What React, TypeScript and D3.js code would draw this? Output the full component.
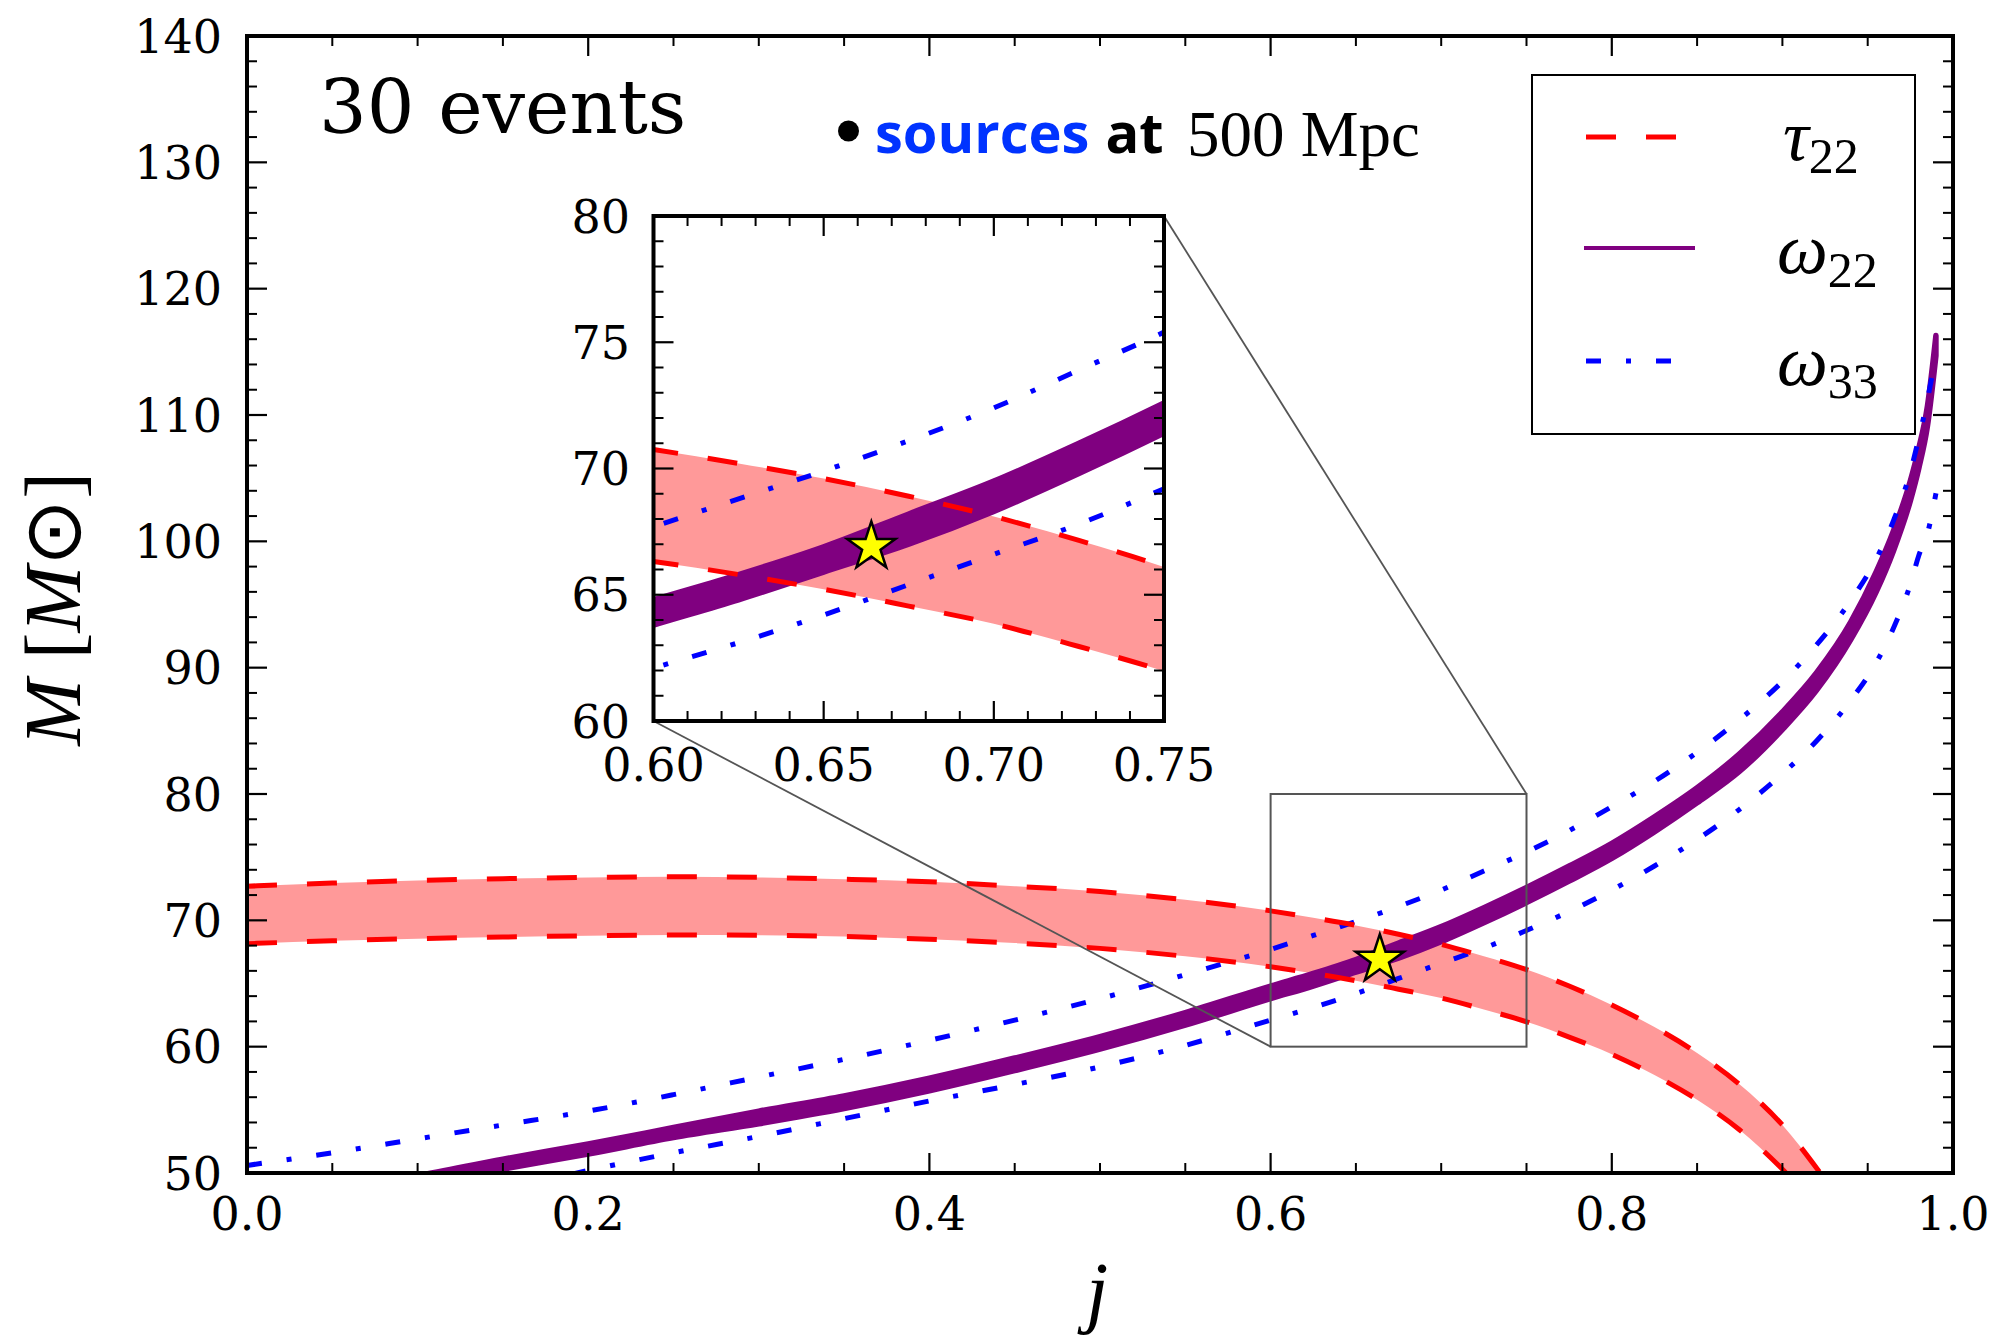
import React from "react";
import * as d3 from "d3";

// Black-hole spin grid shared by every curve
const spin = [
  0, 0.05, 0.1, 0.15, 0.2, 0.25, 0.3, 0.35, 0.4, 0.45, 0.5, 0.55, 0.6, 0.625, 0.65, 0.675,
  0.7, 0.725, 0.75, 0.775, 0.8, 0.825, 0.85, 0.875, 0.9, 0.92, 0.94, 0.955, 0.965, 0.975,
  0.98, 0.985, 0.99,
];

// Mass bounds (solar masses) allowed by the damping time tau_22
const tau22Upper = [
  72.7, 72.95, 73.15, 73.3, 73.4, 73.45, 73.4, 73.25, 73.05, 72.7, 72.28, 71.62, 70.75, 70.2,
  69.6, 68.9, 68.1, 67.15, 66.1, 64.8, 63.3, 61.55, 59.5, 57.0, 53.8, 50.4, 46.6,
  null, null, null, null, null, null,
];
const tau22Lower = [
  68.15, 68.38, 68.55, 68.68, 68.78, 68.84, 68.82, 68.72, 68.5, 68.2, 67.78, 67.15, 66.32, 65.8,
  65.22, 64.55, 63.85, 62.95, 61.97, 60.76, 59.4, 57.75, 55.8, 53.4, 50.3, 47.4,
  null, null, null, null, null, null, null,
];

// Narrow band allowed by the frequency omega_22
const omega22Lower = [
  null, 47.9, 49.0, 50.3, 51.5, 52.8, 53.9, 55.1, 56.5, 58.1, 59.8, 61.7, 63.8, 64.8, 65.9,
  67.0, 68.3, 69.8, 71.4, 73.1, 74.9, 77.0, 79.3, 81.8, 85.1, 88.2, 92.2, 96.0, 99.2, 103.2,
  105.8, 109.1, 114.7,
];
const omega22Upper = [
  null, 48.7, 49.8, 51.1, 52.3, 53.6, 54.9, 56.1, 57.5, 59.1, 60.8, 62.7, 64.8, 65.8, 66.9,
  68.2, 69.5, 71.0, 72.6, 74.3, 76.1, 78.2, 80.5, 83.2, 86.5, 89.6, 93.6, 97.6, 100.8, 104.8,
  107.4, 110.7, 116.3,
];

// Bounds allowed by the frequency omega_33
const omega33Upper = [
  50.6, 51.6, 52.7, 53.8, 54.9, 56.2, 57.6, 59.0, 60.5, 62.1, 63.8, 65.7, 67.7, 68.8, 69.9,
  71.1, 72.4, 73.9, 75.4, 77.1, 79.0, 81.0, 83.3, 85.9, 88.9, 91.8, 95.3, 98.6, 101.6, 105.5,
  108.2, 111.2, 114.8,
];
const omega33Lower = [
  null, null, null, 48.6, 50.2, 51.6, 52.9, 54.3, 55.7, 57.0, 58.4, 60.1, 62.1, 63.1, 64.2,
  65.4, 66.6, 67.8, 69.2, 70.7, 72.4, 74.3, 76.4, 78.8, 81.6, 84.2, 87.4, 90.4, 93.1, 96.6,
  98.9, 100.6, 103.8,
];

// True source parameters
const sourceSpin = 0.664;
const sourceMass = 66.9;

// Axis ticks
const mainXMajor = [0, 0.2, 0.4, 0.6, 0.8, 1.0];
const mainXMinor = d3.range(0, 21).filter((i) => i % 4 !== 0).map((i) => i * 0.05);
const mainYMajor = [50, 60, 70, 80, 90, 100, 110, 120, 130, 140];
const mainYMinor = d3.range(50, 141, 2).filter((v) => v % 10 !== 0);
const insetXMajor = [0.6, 0.65, 0.7, 0.75];
const insetXMinor = d3.range(0, 16).filter((i) => i % 5 !== 0).map((i) => 0.6 + i * 0.01);
const insetYMajor = [60, 65, 70, 75, 80];
const insetYMinor = d3.range(60, 81, 1).filter((v) => v % 5 !== 0);

const RED = "#ff0000";
const RED_FILL = "#ff9999";
const PURPLE = "#800080";
const BLUE = "#0000ff";
const SERIF = "DejaVu Serif";
const MATH = "Liberation Serif";

type Scale = d3.ScaleLinear<number, number>;
const idx = spin.map((_, i) => i);

function linePath(xs: Scale, ys: Scale, vals: (number | null)[]) {
  return (
    d3
      .line<number>()
      .defined((i) => vals[i] != null)
      .x((i) => xs(spin[i]))
      .y((i) => ys(vals[i] as number))
      .curve(d3.curveMonotoneX)(idx) || ""
  );
}

function bandPath(xs: Scale, ys: Scale, lo: (number | null)[], hi: (number | null)[]) {
  return (
    d3
      .area<number>()
      .defined((i) => lo[i] != null && hi[i] != null)
      .x((i) => xs(spin[i]))
      .y0((i) => ys(lo[i] as number))
      .y1((i) => ys(hi[i] as number))
      .curve(d3.curveMonotoneX)(idx) || ""
  );
}

const starPath = d3.symbol().type(d3.symbolStar).size(720)() || "";

function Curves({ xs, ys, clip }: { xs: Scale; ys: Scale; clip: string }) {
  return (
    <g clipPath={`url(#${clip})`}>
      <path d={bandPath(xs, ys, tau22Lower, tau22Upper)} fill={RED_FILL} stroke="none" />
      <path
        d={bandPath(xs, ys, omega22Lower, omega22Upper)}
        fill={PURPLE}
        stroke={PURPLE}
        strokeWidth={5.5}
        strokeLinejoin="round"
      />
      {[omega33Upper, omega33Lower].map((v, k) => (
        <path
          key={`b${k}`}
          d={linePath(xs, ys, v)}
          fill="none"
          stroke={BLUE}
          strokeWidth={5}
          strokeDasharray="15 25 5 25"
        />
      ))}
      {[tau22Upper, tau22Lower].map((v, k) => (
        <path
          key={`r${k}`}
          d={linePath(xs, ys, v)}
          fill="none"
          stroke={RED}
          strokeWidth={5}
          strokeDasharray="30 30"
        />
      ))}
    </g>
  );
}

function Star({ xs, ys }: { xs: Scale; ys: Scale }) {
  return (
    <path
      d={starPath}
      transform={`translate(${xs(sourceSpin)},${ys(sourceMass)})`}
      fill="#ffff00"
      stroke="#000"
      strokeWidth={2.5}
      strokeLinejoin="miter"
    />
  );
}

function Frame({
  xs, ys, xMajor, xMinor, yMajor, yMinor,
}: {
  xs: Scale; ys: Scale; xMajor: number[]; xMinor: number[]; yMajor: number[]; yMinor: number[];
}) {
  const [l, r] = xs.range();
  const [b, t] = ys.range();
  const ticks: JSX.Element[] = [];
  const add = (vals: number[], len: number, w: number, kind: string) => {
    vals.forEach((v, i) => {
      if (kind === "x") {
        const p = xs(v);
        ticks.push(<line key={`xb${len}-${i}`} x1={p} x2={p} y1={b} y2={b - len} stroke="#000" strokeWidth={w} />);
        ticks.push(<line key={`xt${len}-${i}`} x1={p} x2={p} y1={t} y2={t + len} stroke="#000" strokeWidth={w} />);
      } else {
        const p = ys(v);
        ticks.push(<line key={`yl${len}-${i}`} x1={l} x2={l + len} y1={p} y2={p} stroke="#000" strokeWidth={w} />);
        ticks.push(<line key={`yr${len}-${i}`} x1={r} x2={r - len} y1={p} y2={p} stroke="#000" strokeWidth={w} />);
      }
    });
  };
  add(xMajor, 20, 2.2, "x");
  add(xMinor, 10, 2, "x");
  add(yMajor, 20, 2.2, "y");
  add(yMinor, 10, 2, "y");
  return (
    <g>
      {ticks}
      <rect x={l} y={t} width={r - l} height={b - t} fill="none" stroke="#000" strokeWidth={4} />
    </g>
  );
}

function TickLabels({
  xs, ys, xVals, yVals, xFmt, yLabelX, xLabelY,
}: {
  xs: Scale; ys: Scale; xVals: number[]; yVals: number[]; xFmt: (n: number) => string; yLabelX: number; xLabelY: number;
}) {
  return (
    <g fontFamily={SERIF} fontSize={46} fill="#000">
      {xVals.map((v, i) => (
        <text key={`x${i}`} x={xs(v)} y={xLabelY} textAnchor="middle">
          {xFmt(v)}
        </text>
      ))}
      {yVals.map((v, i) => (
        <text key={`y${i}`} x={yLabelX} y={ys(v) + 16.5} textAnchor="end">
          {d3.format("d")(v)}
        </text>
      ))}
    </g>
  );
}

export default function App() {
  const x = d3.scaleLinear().domain([0, 1]).range([247, 1953]);
  const y = d3.scaleLinear().domain([50, 140]).range([1173, 36]);
  const xi = d3.scaleLinear().domain([0.6, 0.75]).range([653.5, 1164]);
  const yi = d3.scaleLinear().domain([60, 80]).range([721, 216]);

  const zx0 = x(0.6), zx1 = x(0.75), zy0 = y(60), zy1 = y(80);

  return (
    <svg
      width={2003}
      height={1336}
      viewBox="0 0 2003 1336"
      style={{ position: "absolute", left: 0, top: 0, background: "#fff" }}
    >
      <defs>
        <clipPath id="mainClip">
          <rect x={247} y={36} width={1706} height={1137} />
        </clipPath>
        <clipPath id="insetClip">
          <rect x={653.5} y={216} width={1164 - 653.5} height={721 - 216} />
        </clipPath>
      </defs>
      <rect x={0} y={0} width={2003} height={1336} fill="#fff" />

      {/* main panel */}
      <Curves xs={x} ys={y} clip="mainClip" />
      <Star xs={x} ys={y} />

      {/* zoomed region and its connectors */}
      <rect x={zx0} y={zy1} width={zx1 - zx0} height={zy0 - zy1} fill="none" stroke="#555" strokeWidth={2} />
      <line x1={zx1} y1={zy1} x2={1164} y2={216} stroke="#555" strokeWidth={1.8} />
      <line x1={zx0} y1={zy0} x2={653.5} y2={721} stroke="#555" strokeWidth={1.8} />

      <Frame xs={x} ys={y} xMajor={mainXMajor} xMinor={mainXMinor} yMajor={mainYMajor} yMinor={mainYMinor} />
      <TickLabels xs={x} ys={y} xVals={mainXMajor} yVals={mainYMajor} xFmt={d3.format(".1f")} yLabelX={222} xLabelY={1230} />

      {/* inset panel */}
      <rect x={653.5} y={216} width={1164 - 653.5} height={721 - 216} fill="#fff" />
      <Curves xs={xi} ys={yi} clip="insetClip" />
      <Star xs={xi} ys={yi} />
      <Frame xs={xi} ys={yi} xMajor={insetXMajor} xMinor={insetXMinor} yMajor={insetYMajor} yMinor={insetYMinor} />
      <TickLabels xs={xi} ys={yi} xVals={insetXMajor} yVals={insetYMajor} xFmt={d3.format(".2f")} yLabelX={630} xLabelY={781} />

      {/* annotations */}
      <text x={319} y={133} fontFamily={SERIF} fontSize={75} fill="#000">
        30 events
      </text>
      <circle cx={848.5} cy={131} r={10.5} fill="#000" />
      <text x={875} y={153} fontFamily="Open Sans" fontWeight={700} fontSize={56}>
        <tspan fill="#0033ff">sources</tspan>
        <tspan fill="#000" dx={16}>at</tspan>
      </text>
      <text x={1187} y={156} fontFamily={MATH} fontSize={65} fill="#000">
        500 Mpc
      </text>

      {/* legend */}
      <rect x={1532} y={75} width={383} height={359} fill="#fff" stroke="#000" strokeWidth={2} />
      <line x1={1586} x2={1678} y1={137} y2={137} stroke={RED} strokeWidth={5} strokeDasharray="30 30" />
      <line x1={1584} x2={1695} y1={248} y2={248} stroke={PURPLE} strokeWidth={4} />
      <line x1={1586} x2={1673} y1={361} y2={361} stroke={BLUE} strokeWidth={5} strokeDasharray="15 25 5 25" />
      <g fontFamily={MATH} fill="#000">
        <text x={1783} y={160} fontSize={72}>
          <tspan fontStyle="italic">τ</tspan>
          <tspan fontSize={50} dy={13}>22</tspan>
        </text>
        <text x={1777} y={273} fontSize={72}>
          <tspan fontStyle="italic">ω</tspan>
          <tspan fontSize={50} dy={14}>22</tspan>
        </text>
        <text x={1777} y={385} fontSize={72}>
          <tspan fontStyle="italic">ω</tspan>
          <tspan fontSize={50} dy={13}>33</tspan>
        </text>
      </g>

      {/* axis titles */}
      <text x={1097} y={1318} fontFamily={MATH} fontStyle="italic" fontSize={80} textAnchor="middle">
        j
      </text>
      <text transform="translate(80,609) rotate(-90)" fontFamily={MATH} fontSize={80} textAnchor="middle">
        <tspan fontStyle="italic">M</tspan>
        <tspan> [</tspan>
        <tspan fontStyle="italic">M</tspan>
        <tspan fontFamily="DejaVu Sans">⊙</tspan>
        <tspan>]</tspan>
      </text>
    </svg>
  );
}
